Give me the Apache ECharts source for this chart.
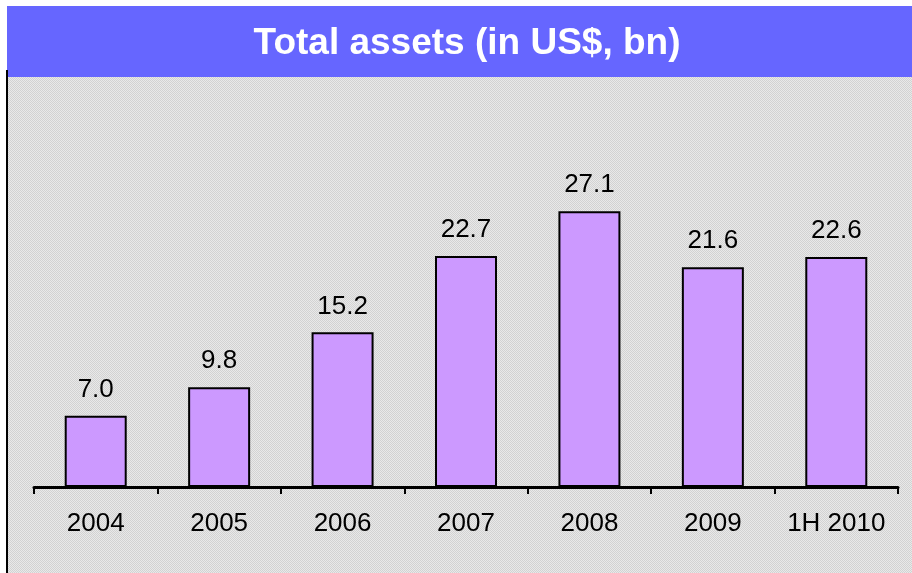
<!DOCTYPE html>
<html>
<head>
<meta charset="utf-8">
<script src="https://cdn.jsdelivr.net/npm/echarts@6/dist/echarts.min.js"></script>
<style>
  html, body { margin: 0; padding: 0; background: #fff; }
  #chart { width: 912px; height: 573px; }
</style>
</head>
<body>
<div id="chart"></div>
<script>
// data
const categories = ['2004', '2005', '2006', '2007', '2008', '2009', '1H 2010'];
const assets = [7.0, 9.8, 15.2, 22.7, 27.1, 21.6, 22.6];

// dotted grey background pattern
const pat = document.createElement('canvas');
pat.width = 2; pat.height = 2;
const pctx = pat.getContext('2d');
pctx.fillStyle = '#e9e9e9';
pctx.fillRect(0, 0, 2, 2);
pctx.fillStyle = '#d2d2d2';
pctx.fillRect(0, 0, 1, 1);
pctx.fillRect(1, 1, 1, 1);

const chart = echarts.init(document.getElementById('chart'));

chart.setOption({
  backgroundColor: '#fff',
  animation: false,
  graphic: [
    { type: 'rect', z: -10, shape: { x: 7, y: 77, width: 905, height: 496 },
      style: { fill: { image: pat, repeat: 'repeat' } } },
    { type: 'rect', z: -10, shape: { x: 7, y: 6, width: 905, height: 71 },
      style: { fill: '#6666ff' } },
    { type: 'line', z: 5, shape: { x1: 7, y1: 70, x2: 7, y2: 573 },
      style: { stroke: '#000', lineWidth: 2 } }
  ],
  title: {
    text: 'Total assets (in US$, bn)',
    left: 462,
    top: 20,
    textAlign: 'center',
    textStyle: { color: '#fff', fontSize: 37, fontWeight: 'bold', fontFamily: 'Liberation Sans' }
  },
  grid: { left: 34, right: 14, top: 80, bottom: 86 },
  xAxis: {
    type: 'category',
    data: categories,
    axisLine: { lineStyle: { color: '#000', width: 3 } },
    axisTick: { show: true, interval: 0, length: 7, lineStyle: { color: '#000', width: 2 } },
    axisLabel: { interval: 0, hideOverlap: false, color: '#000', fontSize: 26, fontFamily: 'Liberation Sans', margin: 24 }
  },
  yAxis: {
    type: 'value',
    min: 0,
    max: 40,
    show: false
  },
  series: [{
    type: 'bar',
    data: assets,
    barWidth: 62,
    itemStyle: { color: '#cc99ff', borderColor: '#000', borderWidth: 2 },
    label: {
      show: true,
      position: 'top',
      distance: 13,
      color: '#000',
      fontSize: 26,
      fontFamily: 'Liberation Sans',
      formatter: p => p.value.toFixed(1)
    }
  }]
});
</script>
</body>
</html>
